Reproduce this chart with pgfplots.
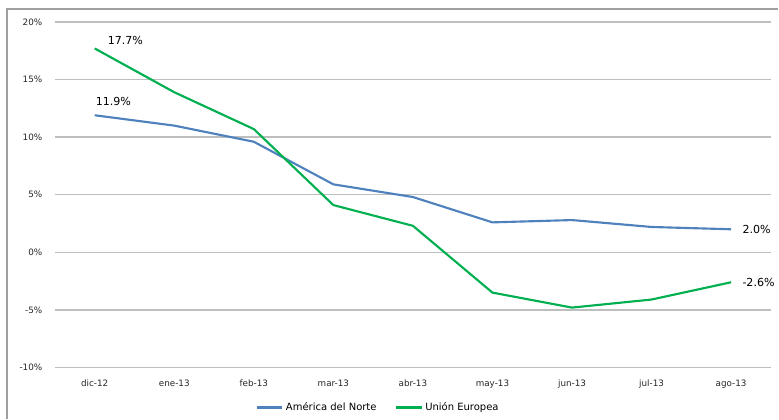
\documentclass[border=0pt]{standalone}
\usepackage{pgfplots}
\pgfplotsset{compat=1.18}
\usepackage{fontspec}
\setmainfont{DejaVu Sans}
\definecolor{nablue}{RGB}{79,129,189}
\definecolor{uegreen}{RGB}{0,176,80}
\definecolor{gridgray}{RGB}{190,190,190}
\definecolor{framegray}{RGB}{160,160,160}
\begin{document}
\begin{tikzpicture}
% page area, 0.75pt per unit
\path (0pt,0pt) rectangle (584.25pt,315pt);
\draw[framegray,line width=0.8pt] (5.25pt,0pt) -- (5.25pt,308.25pt) -- (584.25pt,308.25pt);
\begin{axis}[
  at={(41.25pt,39pt)}, anchor=south west,
  scale only axis,
  width=537.75pt, height=259.5pt,
  xmin=-0.5, xmax=8.5,
  ymin=-10, ymax=20,
  ytick={-10,-5,0,5,10,15,20},
  yticklabel={\pgfmathprintnumber{\tick}\%},
  xtick={0,...,8},
  xticklabels={dic-12,ene-13,feb-13,mar-13,abr-13,may-13,jun-13,jul-13,ago-13},
  axis line style={draw=none},
  major tick length=0pt,
  ymajorgrids,
  grid style={gridgray,line width=1pt},
  tick label style={font=\fontsize{6.6}{8}\selectfont,text=black!85},
  yticklabel style={xshift=-6pt},
  xticklabel style={yshift=-6pt},
  /pgf/number format/assume math mode=true,
  legend style={at={(0.452,-0.116)},anchor=center,draw=none,fill=none,
    legend columns=2,font=\fontsize{7.5}{9}\selectfont,
    /tikz/every even column/.append style={column sep=12pt}},
  legend cell align=left,
  legend image code/.code={\draw[#1,line width=1.6pt] (0,0) -- (19pt,0);},
  clip=false,
]
\addplot[nablue,line width=1.6pt] coordinates {
  (0,11.9) (1,11.0) (2,9.6) (3,5.9) (4,4.8) (5,2.6) (6,2.8) (7,2.2) (8,2.0)};
\addlegendentry{América del Norte}
\addplot[uegreen,line width=1.6pt] coordinates {
  (0,17.7) (1,13.9) (2,10.7) (3,4.1) (4,2.3) (5,-3.5) (6,-4.8) (7,-4.1) (8,-2.6)};
\addlegendentry{Unión Europea}
\node[font=\fontsize{8.3}{10}\selectfont,anchor=center] at (axis cs:0,17.7) [xshift=23pt,yshift=6pt] {17.7\%};
\node[font=\fontsize{8.3}{10}\selectfont,anchor=center] at (axis cs:0,11.9) [xshift=14pt,yshift=10pt] {11.9\%};
\node[font=\fontsize{8.3}{10}\selectfont,anchor=west] at (axis cs:8,2.0) [xshift=5pt] {2.0\%};
\node[font=\fontsize{8.3}{10}\selectfont,anchor=west] at (axis cs:8,-2.6) [xshift=5pt] {-2.6\%};
\end{axis}
\end{tikzpicture}
\end{document}
